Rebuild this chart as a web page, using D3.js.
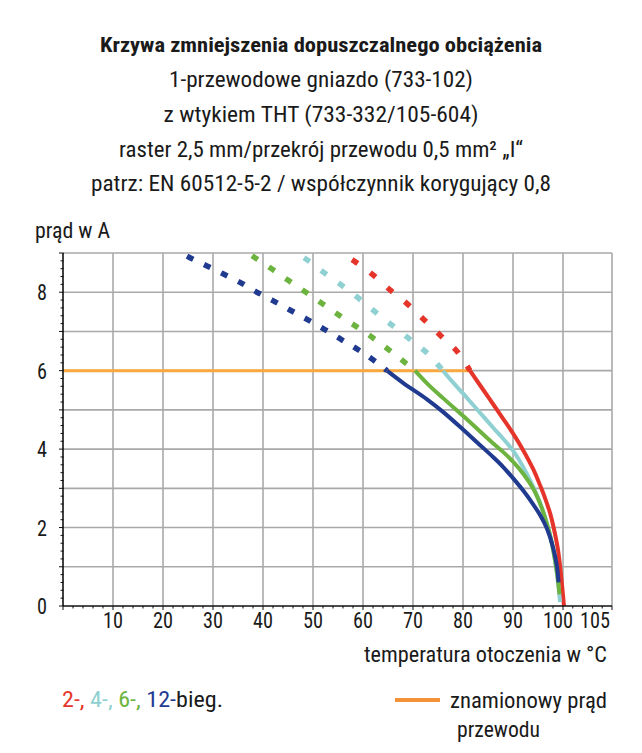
<!DOCTYPE html>
<html><head><meta charset="utf-8">
<script src="https://cdn.jsdelivr.net/npm/d3@7/dist/d3.min.js"></script>
<style>
html,body{margin:0;padding:0;background:#fff;}
svg{display:block;}
</style></head>
<body>
<script>
// ---------- data ----------
const titleLines = [
  "Krzywa zmniejszenia dopuszczalnego obciążenia",
  "1-przewodowe gniazdo (733-102)",
  "z wtykiem THT (733-332/105-604)",
  "raster 2,5 mm/przekrój przewodu 0,5 mm² „I“",
  "patrz: EN 60512-5-2 / współczynnik korygujący 0,8"
];
const yAxisTitle = "prąd w A";
const xAxisTitle = "temperatura otoczenia w °C";
const tempTicks = [10, 20, 30, 40, 50, 60, 70, 80, 90, 100, 105];
const currentTicks = [0, 2, 4, 6, 8];
const currentGrid = [1, 2, 3, 4, 5, 6, 7, 8, 9];
const seriesLabels = ["2-,", "4-,", "6-,", "12-"];
const legendSuffix = "bieg.";
const ratedLabel = ["znamionowy prąd", "przewodu"];
const ratedCurrent = 6;
const ratedTempRange = [0, 81.4];

// [temperature °C, current A], from top (dashed part above 6 A) to bottom
const curve2 = [[57.8,8.83],[58.4,8.78],[62,8.44],[65.4,8.06],[68.8,7.71],[72.2,7.30],[75.8,6.86],[79.2,6.43],[81.4,6.0],
  [84,5.52],[86,5.15],[88,4.78],[90,4.40],[92,3.98],[94,3.5],[95.5,3.05],[96.5,2.72],[97.5,2.33],[98.3,1.9],[99,1.43],[99.6,0.8],[100.1,0]];
const curve4 = [[48.2,8.88],[48.8,8.83],[52.2,8.50],[55.6,8.19],[59.2,7.84],[62.6,7.48],[66,7.14],[69.4,6.8],[73,6.43],[76,6.0],
  [78,5.7],[80,5.42],[82,5.13],[84,4.84],[86,4.55],[88,4.27],[90,3.96],[92,3.55],[94,3.05],[95.5,2.6],[96.8,2.1],[97.8,1.6],[98.6,1.0],[99.1,0.5],[99.4,0.1]];
const curve6 = [[37.8,8.93],[38.4,8.88],[41.8,8.59],[45.2,8.29],[48.8,7.98],[52.2,7.68],[55.6,7.38],[59.2,7.08],[62.6,6.78],[66,6.45],[70.4,6.0],
  [73,5.65],[76,5.3],[80,4.85],[83,4.5],[86,4.15],[88,3.93],[90,3.68],[92,3.38],[94,3.0],[95.6,2.55],[97,2.0],[98,1.45],[98.8,0.85],[99.3,0.3]];
const curve12 = [[24.8,8.92],[25.4,8.88],[28.8,8.67],[32,8.47],[35,8.28],[38.4,8.03],[41.8,7.8],[45.2,7.56],[48.8,7.31],[52.2,7.06],[55.6,6.8],[59.2,6.52],[62.6,6.22],[64.8,6.0],
  [68,5.69],[72.8,5.27],[76,4.95],[80,4.5],[83,4.15],[86,3.8],[88,3.55],[90,3.26],[92,2.95],[94,2.6],[95.5,2.3],[96.8,1.97],[98,1.5],[98.8,1.0],[99.1,0.6]];
const curves = [curve2, curve4, curve6, curve12];

// ---------- styles ----------
const colors = ["#e5352b", "#8fd0d2", "#6db33f", "#1f3a8f"];
const dashes = ["7 15.5", "7 14.3", "7 13.2", "7 12"];
const FONT = "'Liberation Sans Narrow','Roboto Condensed','DejaVu Sans Condensed','Arial Narrow',Roboto,sans-serif";
const gridColor = "#a9a9a9";
const ink = "#1a1a1a";

const W = 642, H = 753;
const svg = d3.select("body").append("svg").attr("width", W).attr("height", H)
  .style("font-family", FONT).style("font-stretch", "condensed");

const x = d3.scaleLinear().domain([0, 100, 105]).range([63, 563, 612]);
const y = d3.scaleLinear().domain([0, 9]).range([606, 253]);

function squeezed(sel, w) {
  return sel.attr("textLength", w).attr("lengthAdjust", "spacingAndGlyphs");
}

// title
const titleBase = [52, 87, 122, 157, 191];
const titleWidths = [442, 304, 315, 404, 460];
titleLines.forEach((t, i) => {
  squeezed(svg.append("text").attr("x", 321).attr("y", titleBase[i]).attr("text-anchor", "middle")
    .attr("font-size", i === 0 ? 21 : 22).attr("font-weight", i === 0 ? "bold" : "normal")
    .attr("fill", ink), titleWidths[i])
    .text(t);
});

// grid
const g = svg.append("g");
g.selectAll("line.hg").data(currentGrid).enter().append("line")
  .attr("x1", x(0)).attr("x2", x(105)).attr("y1", d => y(d)).attr("y2", d => y(d))
  .attr("stroke", gridColor).attr("stroke-width", 1.6);
g.selectAll("line.vg").data(tempTicks).enter().append("line")
  .attr("x1", d => x(d)).attr("x2", d => x(d)).attr("y1", y(0)).attr("y2", y(9))
  .attr("stroke", gridColor).attr("stroke-width", 1.6);

// rated current line
svg.append("line").attr("x1", x(ratedTempRange[0])).attr("x2", x(ratedTempRange[1]))
  .attr("y1", y(ratedCurrent)).attr("y2", y(ratedCurrent))
  .attr("stroke", "#f8a83f").attr("stroke-width", 3);

// curves
const lineDashed = d3.line().x(d => x(d[0])).y(d => y(d[1])).curve(d3.curveMonotoneX);
const lineSolid = d3.line().x(d => x(d[0])).y(d => y(d[1])).curve(d3.curveCatmullRom.alpha(0.5));
curves.forEach((c, i) => {
  const dashed = c.filter(d => d[1] >= ratedCurrent);
  const solid = c.filter(d => d[1] <= ratedCurrent);
  svg.append("path").attr("d", lineDashed(dashed)).attr("fill", "none")
    .attr("stroke", colors[i]).attr("stroke-width", 5.5).attr("stroke-dasharray", dashes[i]);
  svg.append("path").attr("d", lineSolid(solid)).attr("fill", "none")
    .attr("stroke", colors[i]).attr("stroke-width", 4).attr("stroke-linecap", "butt");
});

// axes
const xAxis = svg.append("g").attr("transform", `translate(0,${y(0)})`);
xAxis.append("line").attr("x1", x(0)).attr("x2", x(105)).attr("stroke", "#111").attr("stroke-width", 1.6);
const xMinor = d3.range(0, 101, 2).concat(d3.range(101, 106, 1));
xAxis.selectAll("line.mt").data(xMinor).enter().append("line")
  .attr("x1", d => x(d)).attr("x2", d => x(d)).attr("y1", 0).attr("y2", d => d % 10 === 0 || d === 105 ? 4 : 2.5)
  .attr("stroke", "#111").attr("stroke-width", 1);
xAxis.selectAll("text").data(tempTicks).enter().append("text")
  .attr("x", d => x(d) + (d === 100 ? -5 : d === 105 ? -17 : 0)).attr("y", 22)
  .attr("text-anchor", "middle").attr("font-size", 22).attr("fill", ink)
  .attr("textLength", d => String(d).length * 10).attr("lengthAdjust", "spacingAndGlyphs")
  .text(d => d);

const yAxis = svg.append("g").attr("transform", `translate(${x(0)},0)`);
yAxis.append("line").attr("y1", y(0)).attr("y2", y(9)).attr("stroke", "#111").attr("stroke-width", 1.6);
const yMinor = d3.range(0, 45 + 1).map(d => d / 5);
yAxis.selectAll("line.mt").data(yMinor).enter().append("line")
  .attr("y1", d => y(d)).attr("y2", d => y(d)).attr("x1", d => Math.abs(d - Math.round(d)) < 1e-6 ? -4 : -2.5).attr("x2", 0.5)
  .attr("stroke", "#111").attr("stroke-width", 1);
yAxis.selectAll("text").data(currentTicks).enter().append("text")
  .attr("x", -16).attr("y", d => y(d) + 8)
  .attr("text-anchor", "end").attr("font-size", 22).attr("fill", ink)
  .attr("textLength", 10).attr("lengthAdjust", "spacingAndGlyphs")
  .text(d => d);

// axis titles
squeezed(svg.append("text").attr("x", 35).attr("y", 238).attr("font-size", 22).attr("fill", ink), 75).text(yAxisTitle);
squeezed(svg.append("text").attr("x", 364).attr("y", 662).attr("font-size", 22).attr("fill", ink), 243).text(xAxisTitle);

// legend left
const leg = squeezed(svg.append("text").attr("x", 62).attr("y", 707).attr("font-size", 22), 161);
seriesLabels.forEach((s, i) => {
  leg.append("tspan").attr("fill", colors[i]).text(s + (i < seriesLabels.length - 1 ? " " : ""));
});
leg.append("tspan").attr("fill", ink).text(legendSuffix);

// legend right
svg.append("line").attr("x1", 395).attr("x2", 440).attr("y1", 700).attr("y2", 700)
  .attr("stroke", "#f39237").attr("stroke-width", 4);
squeezed(svg.append("text").attr("x", 450).attr("y", 708).attr("font-size", 22).attr("fill", ink), 157).text(ratedLabel[0]);
squeezed(svg.append("text").attr("x", 457).attr("y", 737).attr("font-size", 22).attr("fill", ink), 83).text(ratedLabel[1]);
</script>
</body></html>
